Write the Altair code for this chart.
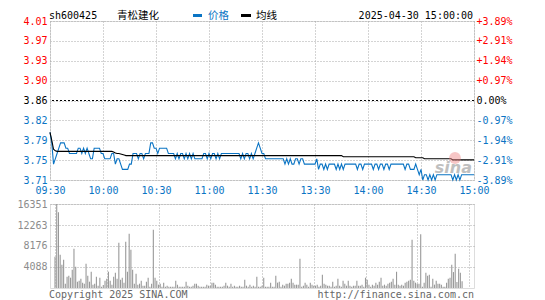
import json
import altair as alt
import pandas as pd

# ---------------- data ----------------
code = "sh600425"
name = "青松建化"
legend_price = "价格"
legend_avg = "均线"
stamp = "2025-04-30 15:00:00"
copyright_txt = "Copyright 2025 SINA.COM"
url_txt = "http://finance.sina.com.cn"

pre_close = 3.86
price_ticks = [3.71, 3.7475, 3.785, 3.8225, 3.86, 3.8975, 3.935, 3.9725, 4.01]
price_tick_labels = ["3.71", "3.75", "3.79", "3.82", "3.86", "3.90", "3.93", "3.97", "4.01"]
pct_tick_labels = ["-3.89%", "-2.91%", "-1.94%", "-0.97%", "0.00%", "+0.97%", "+1.94%", "+2.91%", "+3.89%"]
time_ticks = [0, 30, 60, 90, 120, 150, 180, 210, 240]
time_labels = ["09:30", "10:00", "10:30", "11:00", "11:30", "13:30", "14:00", "14:30", "15:00"]
vol_ticks = [4088, 8176, 12263, 16351]
vol_max = 16351

minutes = list(range(241))

price = [
    3.80, 3.78, 3.74, 3.75, 3.76, 3.77, 3.78, 3.78, 3.78, 3.77,
    3.77, 3.76, 3.76, 3.76, 3.76, 3.76, 3.77, 3.77, 3.76, 3.77,
    3.76, 3.77, 3.76, 3.75, 3.75, 3.77, 3.77, 3.77, 3.77, 3.76,
    3.76, 3.75, 3.75, 3.75, 3.75, 3.76, 3.76, 3.74, 3.75, 3.75,
    3.74, 3.73, 3.73, 3.73, 3.73, 3.74, 3.74, 3.76, 3.76, 3.76,
    3.75, 3.76, 3.76, 3.75, 3.76, 3.76, 3.76, 3.78, 3.78, 3.77,
    3.77, 3.76, 3.77, 3.77, 3.77, 3.77, 3.77, 3.76, 3.76, 3.76,
    3.76, 3.75, 3.76, 3.75, 3.76, 3.76, 3.75, 3.76, 3.75, 3.76,
    3.75, 3.76, 3.75, 3.75, 3.75, 3.75, 3.75, 3.76, 3.76, 3.75,
    3.76, 3.75, 3.76, 3.76, 3.75, 3.76, 3.75, 3.76, 3.76, 3.76,
    3.76, 3.76, 3.76, 3.76, 3.76, 3.76, 3.76, 3.76, 3.75, 3.76,
    3.75, 3.76, 3.76, 3.75, 3.76, 3.75, 3.76, 3.77, 3.78, 3.77,
    3.76, 3.76, 3.75, 3.75, 3.75, 3.75, 3.75, 3.75, 3.75, 3.75,
    3.75, 3.75, 3.75, 3.74, 3.75, 3.74, 3.75, 3.74, 3.74, 3.75,
    3.75, 3.74, 3.75, 3.75, 3.74, 3.74, 3.74, 3.74, 3.74, 3.74,
    3.74, 3.75, 3.73, 3.74, 3.74, 3.73, 3.74, 3.73, 3.74, 3.74,
    3.74, 3.74, 3.73, 3.74, 3.73, 3.74, 3.73, 3.74, 3.74, 3.74,
    3.74, 3.74, 3.74, 3.74, 3.73, 3.74, 3.74, 3.73, 3.74, 3.74,
    3.74, 3.74, 3.74, 3.73, 3.74, 3.74, 3.73, 3.74, 3.74, 3.73,
    3.74, 3.74, 3.73, 3.74, 3.74, 3.74, 3.74, 3.74, 3.74, 3.74,
    3.74, 3.73, 3.74, 3.74, 3.73, 3.73, 3.73, 3.74, 3.73, 3.72,
    3.73, 3.71, 3.72, 3.72, 3.71, 3.72, 3.71, 3.72, 3.71, 3.72,
    3.72, 3.72, 3.72, 3.72, 3.72, 3.72, 3.72, 3.72, 3.71, 3.72,
    3.71, 3.72, 3.71, 3.72, 3.72, 3.72, 3.72, 3.72, 3.72, 3.72, 3.72,
]

avg_price = [
    3.800, 3.785, 3.768, 3.765, 3.764, 3.764, 3.764, 3.764, 3.764, 3.764,
    3.764, 3.764, 3.764, 3.764, 3.764, 3.764, 3.764, 3.764, 3.764, 3.764,
    3.764, 3.764, 3.764, 3.764, 3.764, 3.764, 3.764, 3.764, 3.764, 3.764,
    3.764, 3.764, 3.764, 3.764, 3.764, 3.764, 3.763, 3.761, 3.760, 3.760,
    3.759, 3.758, 3.757, 3.756, 3.756, 3.756, 3.756, 3.756, 3.756, 3.756,
    3.756, 3.756, 3.756, 3.756, 3.756, 3.756, 3.756, 3.756, 3.756, 3.756,
    3.756, 3.756, 3.756, 3.756, 3.756, 3.756, 3.756, 3.756, 3.756, 3.756,
    3.756, 3.756, 3.756, 3.756, 3.756, 3.756, 3.756, 3.756, 3.756, 3.756,
    3.756, 3.756, 3.756, 3.756, 3.756, 3.756, 3.756, 3.756, 3.756, 3.756,
    3.756, 3.756, 3.756, 3.756, 3.756, 3.756, 3.756, 3.756, 3.756, 3.756,
    3.756, 3.756, 3.756, 3.756, 3.756, 3.756, 3.756, 3.756, 3.756, 3.756,
    3.756, 3.756, 3.756, 3.756, 3.756, 3.756, 3.756, 3.756, 3.756, 3.756,
    3.756, 3.756, 3.756, 3.756, 3.756, 3.756, 3.756, 3.756, 3.756, 3.756,
    3.756, 3.756, 3.756, 3.756, 3.756, 3.756, 3.756, 3.756, 3.756, 3.756,
    3.756, 3.756, 3.756, 3.756, 3.756, 3.756, 3.756, 3.756, 3.756, 3.756,
    3.756, 3.756, 3.756, 3.756, 3.756, 3.756, 3.756, 3.756, 3.756, 3.756,
    3.756, 3.756, 3.756, 3.756, 3.756, 3.756, 3.754, 3.754, 3.754, 3.754,
    3.754, 3.754, 3.754, 3.754, 3.754, 3.754, 3.754, 3.754, 3.754, 3.754,
    3.754, 3.754, 3.754, 3.754, 3.754, 3.754, 3.754, 3.754, 3.754, 3.754,
    3.754, 3.754, 3.754, 3.754, 3.754, 3.754, 3.754, 3.754, 3.754, 3.754,
    3.754, 3.754, 3.754, 3.754, 3.754, 3.754, 3.754, 3.752, 3.752, 3.752,
    3.752, 3.752, 3.750, 3.750, 3.750, 3.750, 3.750, 3.750, 3.750, 3.750,
    3.750, 3.750, 3.750, 3.750, 3.750, 3.750, 3.750, 3.750, 3.748, 3.748,
    3.748, 3.748, 3.748, 3.748, 3.748, 3.748, 3.748, 3.748, 3.748, 3.748, 3.748,
]

volume = [
    6100, 16351, 14730, 6490, 4540, 5520, 840, 2200, 2400, 2010,
    3570, 7660, 4150, 1230, 1430, 1820, 1040, 840, 4740, 2400,
    1230, 3180, 650, 840, 2200, 450, 2010, 260, 580, 1430,
    1820, 3180, 1430, 650, 2200, 2990, 1820, 8830, 1620, 2010,
    1040, 9020, 3180, 10580, 7460, 3570, 840, 2790, 650, 840,
    1430, 450, 450, 1230, 2010, 260, 840, 11360, 2010, 1430,
    650, 840, 260, 1040, 260, 450, 260, 260, 260, 260,
    1430, 650, 260, 260, 260, 260, 1230, 450, 260, 260,
    450, 840, 840, 450, 260, 260, 260, 260, 650, 450,
    450, 1040, 1040, 650, 260, 260, 260, 260, 450, 1040,
    450, 260, 840, 260, 450, 260, 260, 450, 260, 260,
    1620, 450, 260, 650, 260, 450, 260, 2200, 260, 260,
    450, 2010, 260, 260, 260, 1040, 260, 260, 2400, 1040,
    1230, 260, 650, 450, 840, 840, 1040, 1820, 1040, 650,
    650, 650, 5710, 260, 450, 1040, 650, 260, 1040, 650,
    450, 450, 650, 260, 450, 2600, 840, 650, 450, 450,
    260, 1230, 260, 450, 1820, 450, 260, 1430, 840, 450,
    1430, 450, 260, 450, 450, 1430, 450, 450, 650, 260,
    2010, 1620, 650, 260, 650, 450, 1040, 650, 1230, 2010,
    450, 650, 450, 840, 1040, 1230, 1820, 650, 3180, 650,
    450, 650, 450, 1040, 1230, 1430, 1620, 9410, 1430, 1040,
    840, 840, 10450, 260, 1040, 2990, 2400, 2600, 260, 1820,
    650, 1430, 840, 840, 650, 260, 260, 1040, 1820, 2010,
    4540, 3100, 6650, 1160, 3750, 2970, 1290, 0, 0, 0, 0,
]

assert len(price) == len(avg_price) == len(volume) == len(minutes)

# ---------------- styling ----------------
BLUE = "#0a74c4"
RED = "#ff0000"
GRID = "#a8a8a8"
BORDER = "#999999"
MONO = "DejaVu Sans Mono"
CJK = "DejaVu Sans, Noto Sans CJK SC"
W, H1, H2 = 424, 159, 84

df = pd.DataFrame({"m": minutes, "price": price, "avg": avg_price, "vol": volume})

xscale = alt.Scale(domain=[0, 240], nice=False, zero=False)
yscale = alt.Scale(domain=[price_ticks[0], price_ticks[-1]], nice=False, zero=False)

color_cond = {
    "condition": [
        {"test": f"datum.value > {pre_close + 0.005}", "value": RED},
        {"test": f"datum.value < {pre_close - 0.005}", "value": BLUE},
    ],
    "value": "#000000",
}

idx_expr = f"round((datum.value - {price_ticks[0]}) / {price_ticks[1] - price_ticks[0]})"

x_axis_price = alt.Axis(
    values=time_ticks, labelExpr=f"{json.dumps(time_labels)}[round(datum.value / 30)]",
    title=None, grid=True, gridColor=GRID, gridDash=[1, 2], ticks=False, domain=False,
    labelColor=BLUE, labelFont=MONO, labelFontSize=10, labelPadding=5,
    labelFlush=False, labelOverlap=False,
)
x_axis_vol = alt.Axis(
    values=time_ticks, labels=False, title=None, grid=True, gridColor=GRID,
    gridDash=[1, 2], ticks=False, domain=False,
)
left_axis = alt.Axis(
    values=price_ticks, labelExpr=f"{json.dumps(price_tick_labels)}[{idx_expr}]",
    title=None, grid=True, gridColor=GRID, gridDash=[1, 2], ticks=False, domain=False,
    labelColor=color_cond, labelFont=MONO, labelFontSize=10, labelPadding=3,
    labelFlush=False, labelOverlap=False,
)
right_axis = alt.Axis(
    orient="right", values=price_ticks, labelExpr=f"{json.dumps(pct_tick_labels)}[{idx_expr}]",
    title=None, grid=False, ticks=False, domain=False,
    labelColor=color_cond, labelFont=MONO, labelFontSize=10, labelPadding=2,
    labelFlush=False, labelOverlap=False,
)
vol_axis = alt.Axis(
    values=vol_ticks, format="d", title=None, grid=True, gridColor=GRID, gridDash=[1, 2],
    ticks=False, domain=False, labelColor="#8c8c8c", labelFont=MONO, labelFontSize=10,
    labelPadding=3, labelFlush=False, labelOverlap=False,
)


def label(text, x, y, color, font=MONO, size=10, align="left", **kw):
    return alt.Chart(pd.DataFrame({"t": [text]})).mark_text(
        align=align, baseline="middle", color=color, font=font, fontSize=size, **kw
    ).encode(x=alt.value(x), y=alt.value(y), text="t:N")


def swatch(x1, x2, y, color):
    return alt.Chart(pd.DataFrame({"t": [0]})).mark_rule(color=color, strokeWidth=3).encode(
        x=alt.value(x1), x2=alt.value(x2), y=alt.value(y)
    )


base = alt.Chart(df)
price_line = base.mark_line(color=BLUE, strokeWidth=1.1).encode(
    x=alt.X("m:Q", scale=xscale, axis=x_axis_price),
    y=alt.Y("price:Q", scale=yscale, axis=left_axis),
)
avg_line = base.mark_line(color="black", strokeWidth=1.1).encode(
    x=alt.X("m:Q", scale=xscale, axis=x_axis_price),
    y=alt.Y("avg:Q", scale=yscale, axis=right_axis),
)
pre_rule = alt.Chart(pd.DataFrame({"p": [pre_close]})).mark_rule(
    color="black", strokeDash=[2, 2], strokeWidth=1
).encode(y=alt.Y("p:Q", scale=yscale, axis=None))

HY = -5.5
header = [
    label(code, -1, HY, "black"),
    label(name, 67, HY, "black", font=CJK, size=10.5),
    swatch(143, 152, HY, BLUE),
    label(legend_price, 158, HY, BLUE, font=CJK, size=10.5),
    swatch(191, 201, HY, "black"),
    label(legend_avg, 206, HY, "black", font=CJK, size=10.5),
    label(stamp, W - 1, HY, "black", align="right"),
]

logo = alt.Chart(pd.DataFrame({"t": [0]})).mark_point(
    filled=True, color="#ee8080", opacity=0.45, size=140, shape="circle"
).encode(x=alt.value(W - 19), y=alt.value(H1 - 22))
watermark = label("sina", W - 2, H1 - 12, "#b5b5b5", font="DejaVu Sans", size=16,
                  align="right", fontStyle="italic", fontWeight="bold", opacity=0.85)

price_panel = alt.layer(
    pre_rule, price_line, avg_line, logo, watermark, *header
).resolve_axis(y="independent").properties(width=W, height=H1)

vol_bars = base.mark_bar(color="#999999", width=1.1).encode(
    x=alt.X("m:Q", scale=xscale, axis=x_axis_vol),
    y=alt.Y("vol:Q", scale=alt.Scale(domain=[0, vol_max], nice=False), axis=vol_axis),
)
vol_panel = alt.layer(
    vol_bars,
    label(copyright_txt, -1, H2 + 7, "#666666"),
    label(url_txt, W, H2 + 7, "#666666", align="right"),
).properties(width=W, height=H2)

chart = alt.vconcat(price_panel, vol_panel, spacing=24, bounds="flush").properties(
    padding={"left": 8, "top": 2, "right": 0, "bottom": 0}
).configure_view(stroke=BORDER, strokeWidth=1.5).configure(background="white")

chart.save("out.html", embed_options={"renderer": "svg", "actions": False})
